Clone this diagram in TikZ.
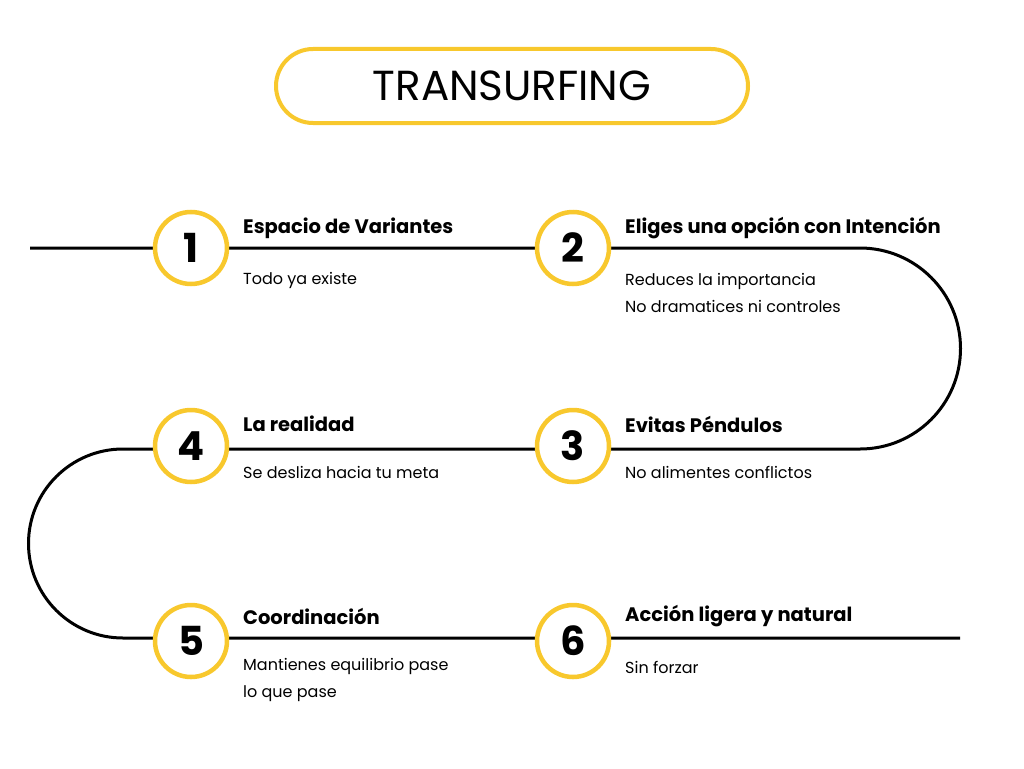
\documentclass[tikz,border=0pt]{standalone}
\usepackage{fontspec}
\setmainfont{Poppins}
\usetikzlibrary{positioning}
\definecolor{sunyellow}{RGB}{248,200,45}
\begin{document}
\begin{tikzpicture}[x=1pt,y=-1pt]
\tikzset{
stepcircle/.style = {draw=sunyellow, line width=4.5pt, fill=white, circle, minimum size=72pt, inner sep=0pt, font=\fontsize{40}{40}\selectfont\bfseries},
heading/.style    = {anchor=west, inner sep=0pt, font=\fontsize{19.5}{22}\selectfont\bfseries},
detail/.style     = {anchor=west, inner sep=0pt, font=\fontsize{16}{27}\selectfont, align=left},
}
    \useasboundingbox (0,0) rectangle (1024,768);
    % Title
    \node [draw=sunyellow, line width=4pt, rounded corners=37pt, minimum width=472pt, minimum height=74pt, font=\fontsize{42}{42}\selectfont] (title) at (512,86) {TRANSURFING};

    % Path
    \coordinate (start) at (30,248);
    \coordinate (stop)  at (960,638);
    \draw [line width=3pt] (start) -- (860,248) arc[start angle=270, end angle=450, radius=100.5]
        -- (123,449) arc[start angle=270, end angle=90, radius=94.5] -- (stop);

    % Steps
    \node [stepcircle] (s1) at (191,248) {1};
    \node [stepcircle] (s2) at (573,248) {2};
    \node [stepcircle] (s3) at (573,446) {3};
    \node [stepcircle] (s4) at (191,446) {4};
    \node [stepcircle] (s5) at (191,641) {5};
    \node [stepcircle] (s6) at (573,641) {6};

    % Texts
    \node [heading] (h1) at (243,228) {Espacio de Variantes};
    \node [detail, below right=34pt and 0pt of h1.south west, anchor=north west] (d1) {Todo ya existe};
    \node [heading] (h2) at (625,228) {Eliges una opción con Intención};
    \node [detail, below right=34pt and 0pt of h2.south west, anchor=north west] (d2) {Reduces la importancia\\No dramatices ni controles};
    \node [heading] (h3) at (625,424) {Evitas Péndulos};
    \node [detail, below right=34pt and 0pt of h3.south west, anchor=north west] (d3) {No alimentes conflictos};
    \node [heading] (h4) at (243,424) {La realidad};
    \node [detail, below right=34pt and 0pt of h4.south west, anchor=north west] (d4) {Se desliza hacia tu meta};
    \node [heading] (h5) at (243,616) {Coordinación};
    \node [detail, below right=34pt and 0pt of h5.south west, anchor=north west] (d5) {Mantienes equilibrio pase\\lo que pase};
    \node [heading] (h6) at (625,616) {Acción ligera y natural};
    \node [detail, below right=34pt and 0pt of h6.south west, anchor=north west] (d6) {Sin forzar};
\end{tikzpicture}
\end{document}
